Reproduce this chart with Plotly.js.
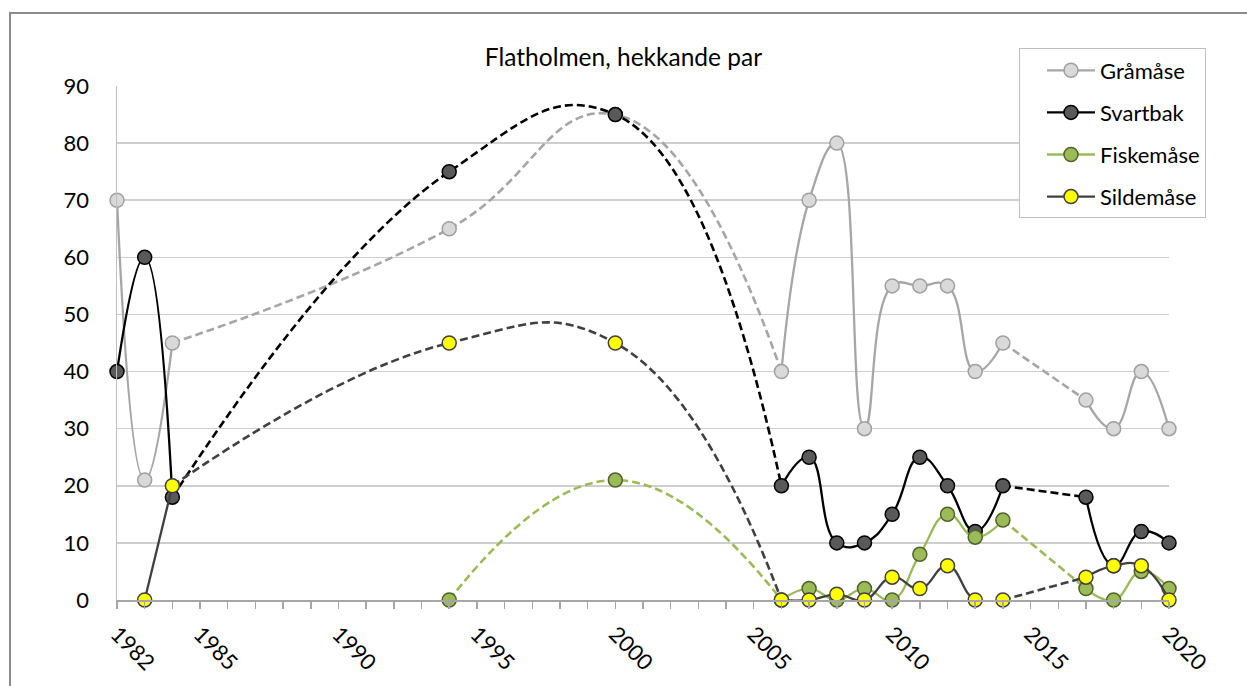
<!DOCTYPE html>
<html><head><meta charset="utf-8">
<script src="https://cdn.plot.ly/plotly-3.0.1.min.js"></script>
<style>
html,body{margin:0;padding:0;background:#fff;overflow:hidden;}
#chart{width:1247px;height:686px;}
#frame{position:absolute;left:9px;top:12px;width:1400px;height:900px;border-left:2px solid #8c8c8c;border-top:2px solid #8c8c8c;pointer-events:none;}
</style>
</head><body>
<div id="chart"></div><div id="frame"></div>
<script>
const years     = [1982,1983,1984,1994,2000,2006,2007,2008,2009,2010,2011,2012,2013,2014,2017,2018,2019,2020];
const gramase   = [70,21,45,65,85,40,70,80,30,55,55,55,40,45,35,30,40,30];
const svartbak  = [40,60,18,75,85,20,25,10,10,15,25,20,12,20,18,6,12,10];
const fiskemase = [null,null,null,0,21,0,2,0,2,0,8,15,11,14,2,0,5,2];
const sildemase = [null,0,20,45,45,0,0,1,0,4,2,6,0,0,4,6,6,0];
const seriesNames = ['Gråmåse','Svartbak','Fiskemåse','Sildemåse'];
const labelYears = [1982,1985,1990,1995,2000,2005,2010,2015,2020];

const FONT = 'Lato, Carlito, Calibri, "Noto Sans", sans-serif';
const styles = [
  {line:'#a6a6a6', fill:'#d9d9d9', edge:'#a0a0a0'},
  {line:'#000000', fill:'#595959', edge:'#000000'},
  {line:'#9bbb59', fill:'#9bbb59', edge:'#4f6228'},
  {line:'#404040', fill:'#ffff00', edge:'#404040'}
];
const allValues = [gramase, svartbak, fiskemase, sildemase];

const traces = [];
const legendTraces = [];
allValues.forEach((vals, s) => {
  const st = styles[s];
  const xs = [], ys = [];
  years.forEach((yr, i) => { if (vals[i] !== null) { xs.push(yr); ys.push(vals[i]); } });
  // split into solid (consecutive years) and dashed (gap years) runs
  let segX = [xs[0]], segY = [ys[0]], segDashed = null;
  const flush = () => {
    if (segX.length > 1) {
      traces.push({
        x: segX, y: segY, type: 'scatter', mode: 'lines', showlegend: false, hoverinfo: 'skip',
        cliponaxis: false,
        line: {color: st.line, width: segDashed ? 2.6 : 2.3, shape: 'spline', smoothing: 1.3,
               dash: segDashed ? '8px,4px' : 'solid'}
      });
    }
  };
  for (let i = 1; i < xs.length; i++) {
    const dashed = (xs[i] - xs[i-1]) > 1;
    if (segDashed === null) segDashed = dashed;
    if (dashed !== segDashed) {
      flush();
      segX = [xs[i-1]]; segY = [ys[i-1]]; segDashed = dashed;
    }
    segX.push(xs[i]); segY.push(ys[i]);
  }
  flush();
  traces.push({
    x: xs, y: ys, type: 'scatter', mode: 'markers', showlegend: false, cliponaxis: false,
    name: seriesNames[s],
    marker: {size: 14, color: st.fill, line: {color: st.edge, width: 1.5}}
  });
  legendTraces.push({
    x: [null], y: [null], type: 'scatter', mode: 'lines+markers', name: seriesNames[s],
    legendgroup: 'g' + s, showlegend: true,
    line: {color: st.line, width: 2.3},
    marker: {size: 14, color: st.fill, line: {color: st.edge, width: 1.5}}
  });
});

const allYears = [];
for (let y = years[0]; y <= years[years.length-1]; y++) allYears.push(y);
const tickText = allYears.map(y => labelYears.includes(y) ? String(y) : '');

const layout = {
  width: 1247, height: 686,
  margin: {l: 117, r: 78, t: 86, b: 86},
  paper_bgcolor: '#ffffff', plot_bgcolor: '#ffffff',
  font: {family: FONT, color: '#000000', size: 21},
  title: {text: 'Flatholmen, hekkande par', font: {family: FONT, size: 24.5, color: '#000'},
          x: 0.5, xref: 'container', xanchor: 'center', y: 0.917, yref: 'container', yanchor: 'middle'},
  showlegend: true,
  legend: {x: 0.8574, y: 1.073, xanchor: 'left', yanchor: 'top', bgcolor: '#ffffff',
           bordercolor: '#bfbfbf', borderwidth: 1, traceorder: 'grouped', tracegroupgap: 10.5,
           font: {family: FONT, size: 22, color: '#000'}, itemwidth: 48, indentation: 22},
  xaxis: {range: [1982, 2020], tickmode: 'array', tickvals: allYears, ticktext: tickText,
          tickangle: 45, ticks: 'outside', ticklen: 7, tickwidth: 1.5, tickcolor: '#a6a6a6',
          showline: true, linecolor: '#a6a6a6', linewidth: 1.5, showgrid: false, zeroline: false,
          tickfont: {family: FONT, size: 22, color: '#000'}, ticklabelstandoff: 4},
  yaxis: {range: [0, 90], tickmode: 'linear', tick0: 0, dtick: 10, ticks: '',
          showgrid: true, gridcolor: '#cfcfcf', gridwidth: 1.5,
          showline: true, linecolor: '#bfbfbf', linewidth: 1.5, zeroline: false,
          tickfont: {family: FONT, size: 22, color: '#000'}, ticklabelstandoff: 22}
};

Plotly.newPlot('chart', traces.concat(legendTraces), layout, {displayModeBar: false, staticPlot: true});
</script>
</body></html>
